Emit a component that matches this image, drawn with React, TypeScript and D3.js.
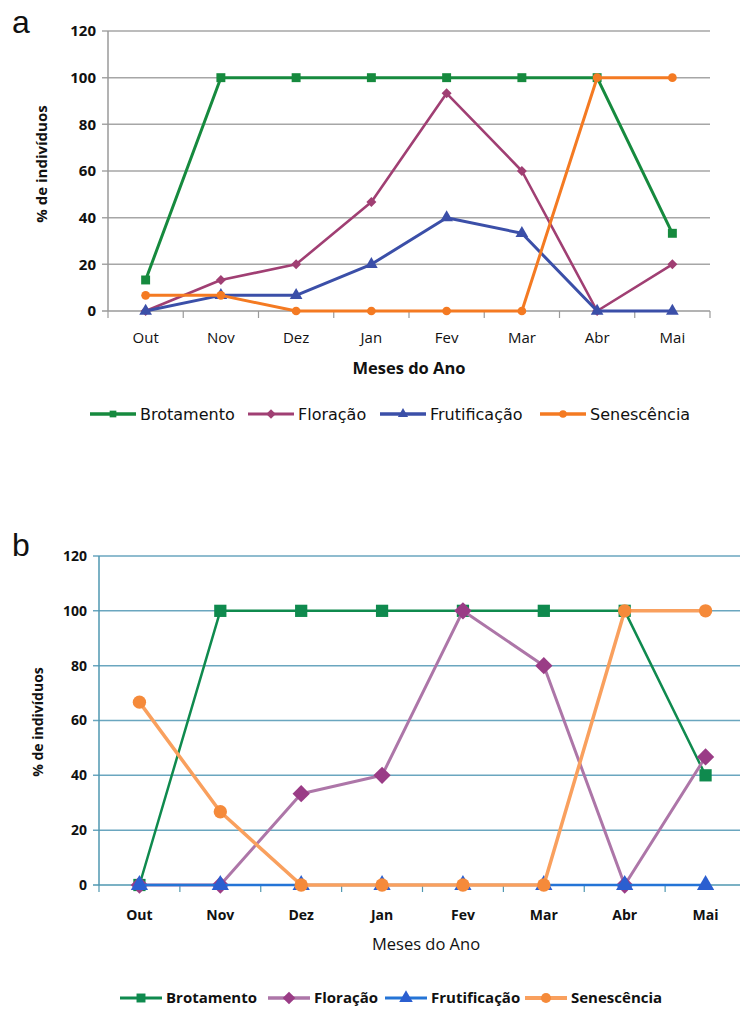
import React from "react";
import * as d3 from "d3";

const months = ["Out", "Nov", "Dez", "Jan", "Fev", "Mar", "Abr", "Mai"];
const yTicks = [0, 20, 40, 60, 80, 100, 120];
const seriesNames = ["Brotamento", "Floração", "Frutificação", "Senescência"];

// painel a
const brotA = [13.3, 100, 100, 100, 100, 100, 100, 33.3];
const florA = [0, 13.3, 20, 46.7, 93.3, 60, 0, 20];
const frutA = [0, 6.7, 6.7, 20, 40, 33.3, 0, 0];
const senA = [6.7, 6.7, 0, 0, 0, 0, 100, 100];

// painel b
const brotB = [0, 100, 100, 100, 100, 100, 100, 40];
const florB = [0, 0, 33.3, 40, 100, 80, 0, 46.7];
const frutB = [0, 0, 0, 0, 0, 0, 0, 0];
const senB = [66.7, 26.7, 0, 0, 0, 0, 100, 100];

// losango "quadrado girado", como o do Excel
const squareDiamond = {
  draw(ctx: any, size: number) {
    const r = Math.sqrt(size / 2);
    ctx.moveTo(0, -r);
    ctx.lineTo(r, 0);
    ctx.lineTo(0, r);
    ctx.lineTo(-r, 0);
    ctx.closePath();
  },
};

const symbols = [d3.symbolSquare, squareDiamond, d3.symbolTriangle, d3.symbolCircle];

type Style = {
  top: number;
  bottom: number;
  left: number;
  right: number;
  lineColors: string[];
  markColors: string[];
  lineWidths: number[];
  markSizes: number[];
  grid: string;
  axis: string;
  font: string;
  yTickWeight: string;
  xTickWeight: string;
  tickSize: number;
  xTickY: number;
  titleX: number;
  titleY: number;
  titleWeight: string;
  titleSize: number;
  yTitleX: number;
  yTitleY: number;
  yTitleSize: number;
  legendY: number;
  legendX: number[];
  legendFont: string;
  legendWeight: string;
  legendSize: number;
  legendLine: number;
  legendMark: number;
};

const Panel = ({ data, s }: { data: number[][]; s: Style }) => {
  const x = d3.scaleBand().domain(months).range([s.left, s.right]);
  const y = d3.scaleLinear().domain([0, 120]).range([s.bottom, s.top]);
  const cx = (m: string) => (x(m) as number) + x.bandwidth() / 2;
  const line = d3
    .line<number>()
    .x((_, i) => cx(months[i]))
    .y((d) => y(d));
  const edges = months.map((m) => x(m) as number).concat([s.right]);
  return (
    <g>
      {yTicks.map((t) => (
        <g key={t}>
          <line x1={s.left - 6} x2={Math.min(s.right, 740)} y1={y(t)} y2={y(t)} stroke={t === 0 ? s.axis : s.grid} strokeWidth={1.5} />
          <text x={s.left - 12} y={y(t)} dy="0.35em" textAnchor="end" fontFamily={s.font} fontWeight={s.yTickWeight} fontSize={s.tickSize} fill="#111">
            {t}
          </text>
        </g>
      ))}
      <line x1={s.left} x2={s.left} y1={s.top} y2={s.bottom} stroke={s.axis} strokeWidth={1.5} />
      {edges.map((e, i) => (
        <line key={i} x1={e} x2={e} y1={s.bottom} y2={s.bottom + 7} stroke={s.axis} strokeWidth={1.2} />
      ))}
      {months.map((m) => (
        <text key={m} x={cx(m)} y={s.xTickY} textAnchor="middle" fontFamily={s.font} fontWeight={s.xTickWeight} fontSize={s.tickSize} fill="#111">
          {m}
        </text>
      ))}
      <text x={s.titleX} y={s.titleY} textAnchor="middle" fontFamily={s.font} fontWeight={s.titleWeight} fontSize={s.titleSize} fill="#111">
        Meses do Ano
      </text>
      <text
        transform={`translate(${s.yTitleX}, ${s.yTitleY}) rotate(-90)`}
        textAnchor="middle"
        fontFamily={s.font}
        fontWeight="bold"
        fontSize={s.yTitleSize}
        fill="#111"
      >
        % de indivíduos
      </text>
      {data.map((vals, k) => (
        <g key={k}>
          <path d={line(vals) as string} fill="none" stroke={s.lineColors[k]} strokeWidth={s.lineWidths[k]} strokeLinejoin="round" />
          {vals.map((v, i) => (
            <path
              key={i}
              transform={`translate(${cx(months[i])}, ${y(v)})`}
              d={d3.symbol(symbols[k] as any, s.markSizes[k])() as string}
              fill={s.markColors[k]}
            />
          ))}
        </g>
      ))}
      {seriesNames.map((n, k) => (
        <g key={n} transform={`translate(${s.legendX[k]}, ${s.legendY})`}>
          <line x1={0} x2={s.legendLine} y1={0} y2={0} stroke={s.lineColors[k]} strokeWidth={s.lineWidths[k] + 0.5} />
          <path transform={`translate(${s.legendLine / 2}, 0)`} d={d3.symbol(symbols[k] as any, s.legendMark)() as string} fill={s.markColors[k]} />
          <text x={s.legendLine + 4} y={0} dy="0.35em" fontFamily={s.legendFont} fontWeight={s.legendWeight} fontSize={s.legendSize} fill="#111">
            {n}
          </text>
        </g>
      ))}
    </g>
  );
};

const styleA: Style = {
  top: 31,
  bottom: 311,
  left: 108,
  right: 710,
  lineColors: ["#168a3e", "#a03f73", "#3b4fa8", "#f47a22"],
  markColors: ["#168a3e", "#a03f73", "#3b4fa8", "#f47a22"],
  lineWidths: [3, 2.6, 3, 3],
  markSizes: [80, 50, 70, 60],
  grid: "#a6a6a6",
  axis: "#9a9a9a",
  font: "'Open Sans', 'Noto Sans', sans-serif",
  yTickWeight: "bold",
  xTickWeight: "normal",
  tickSize: 15,
  xTickY: 343,
  titleX: 409,
  titleY: 374,
  titleWeight: "bold",
  titleSize: 16.5,
  yTitleX: 47,
  yTitleY: 164,
  yTitleSize: 15,
  legendY: 414,
  legendX: [90, 248, 380, 540],
  legendFont: "'DejaVu Sans', sans-serif",
  legendWeight: "normal",
  legendSize: 16,
  legendLine: 46,
  legendMark: 45,
};

const styleB: Style = {
  top: 556,
  bottom: 885,
  left: 99,
  right: 746,
  lineColors: ["#0f8a4e", "#ad76a8", "#2474d6", "#f9a05e"],
  markColors: ["#0f8a4e", "#9a3c86", "#2b5fd0", "#f58a3a"],
  lineWidths: [2.5, 3, 2.5, 3.5],
  markSizes: [150, 150, 130, 140],
  grid: "#6aa6bf",
  axis: "#4f97b0",
  font: "'Open Sans', 'Noto Sans', sans-serif",
  yTickWeight: "bold",
  xTickWeight: "bold",
  tickSize: 14,
  xTickY: 920,
  titleX: 426,
  titleY: 950,
  titleWeight: "normal",
  titleSize: 16.5,
  yTitleX: 43,
  yTitleY: 722,
  yTitleSize: 14,
  legendY: 998,
  legendX: [120, 268, 385, 525],
  legendFont: "'Open Sans', 'Noto Sans', sans-serif",
  legendWeight: "bold",
  legendSize: 15,
  legendLine: 42,
  legendMark: 80,
};

export default function App() {
  return (
    <svg width={740} height={1009} style={{ position: "absolute", left: 0, top: 0, background: "#fff" }}>
      <text x={12} y={33} fontFamily="'Liberation Sans', Arial, sans-serif" fontSize={32} fill="#111">
        a
      </text>
      <Panel data={[brotA, florA, frutA, senA]} s={styleA} />
      <text x={12} y={556} fontFamily="'Liberation Sans', Arial, sans-serif" fontSize={32} fill="#111">
        b
      </text>
      <Panel data={[brotB, florB, frutB, senB]} s={styleB} />
    </svg>
  );
}
